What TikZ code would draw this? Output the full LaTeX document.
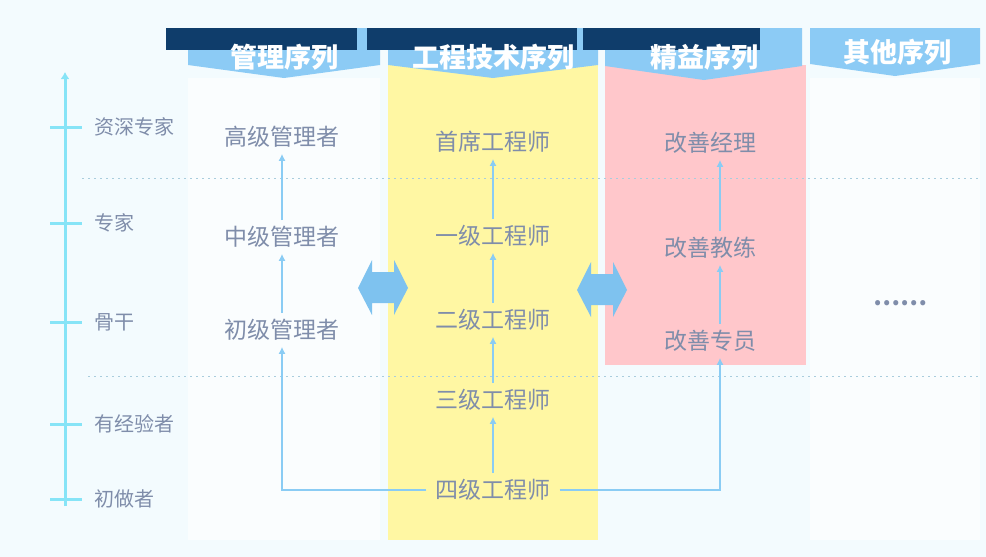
\documentclass[tikz,border=0pt]{standalone}
\usepackage{fontspec}
\setmainfont{Noto Sans CJK SC}
\usetikzlibrary{positioning,arrows.meta}

\definecolor{bgcol}{HTML}{F3FBFE}
\definecolor{navy}{HTML}{0F3D6B}
\definecolor{chevcol}{HTML}{8CCBF5}
\definecolor{yellowcol}{HTML}{FFF7A3}
\definecolor{pinkcol}{HTML}{FFC7CB}
\definecolor{axiscol}{HTML}{86E4F7}
\definecolor{arrcol}{HTML}{8ACCF4}
\definecolor{bigarrcol}{HTML}{7EC2EF}
\definecolor{txtcol}{HTML}{7F8DAA}
\definecolor{dotcol}{HTML}{A9CDDD}

\begin{document}
\begin{tikzpicture}[x=1pt, y=-1pt,
levelnode/.style={text=txtcol, font=\fontsize{23}{23}\selectfont, inner sep=3pt},
axisnode/.style={text=txtcol, font=\fontsize{20}{20}\selectfont, anchor=west, inner sep=0pt},
headnode/.style={text=white, font=\fontsize{27}{27}\selectfont\bfseries, inner sep=0pt},
uparrow/.style={draw=arrcol, line width=2pt, -{Latex[length=7pt,width=7pt]}, shorten >=3pt, shorten <=3pt},
]
\useasboundingbox (0,0) rectangle (986,557);
\fill[bgcol] (0,0) rectangle (986,557);

%Columns
\fill[white!60!bgcol] (188,78) rectangle (380,540);
\fill[white!60!bgcol] (810,78) rectangle (980,540);
\fill[yellowcol] (388,65) rectangle (598,540);
\fill[pinkcol] (605,65) rectangle (806,365);

%Headers
\fill[chevcol] (188,28) -- (380,28) -- (380,65) -- (284,78) -- (188,65) -- cycle;
\fill[chevcol] (388,28) -- (598,28) -- (598,65) -- (493,78) -- (388,65) -- cycle;
\fill[chevcol] (605,28) -- (802,28) -- (802,66) -- (704,80) -- (605,66) -- cycle;
\fill[chevcol] (810,28) -- (980,28) -- (980,64) -- (895,76) -- (810,64) -- cycle;
\fill[navy] (166,28) rectangle (357,50);
\fill[navy] (367,28) rectangle (577,50);
\fill[navy] (583,28) rectangle (760,50);
\node[headnode] (hguanli) at (284,57) {管理序列};
\node[headnode] (hgongcheng) at (493,57) {工程技术序列};
\node[headnode] (hjingyi) at (704,57) {精益序列};
\node[headnode] (hqita) at (897,52) {其他序列};

%Dotted lines
\draw[dotcol, line width=1pt, dash pattern=on 2pt off 4pt] (82,178) -- (980,178);
\draw[dotcol, line width=1pt, dash pattern=on 2pt off 4pt] (88,376) -- (980,376);

%Axis
\draw[axiscol, line width=3pt, -{Latex[length=7pt,width=9pt]}] (65,506) -- (65,72);
\foreach \y/\lbl/\nm in {127/资深专家/ashen, 223/专家/azhuan, 322/骨干/agu, 424/有经验者/ayou, 499/初做者/achu}{
  \draw[axiscol, line width=3pt] (50,\y) -- (82,\y);
  \node[axisnode] (\nm) at (94,\y) {\lbl};
}

%Nodes
\node[levelnode] (gaoguan)   at (282,137) {高级管理者};
\node[levelnode] (zhongguan) at (282,237) {中级管理者};
\node[levelnode] (chuguan)   at (282,330) {初级管理者};

\node[levelnode] (shouxi) at (493,142) {首席工程师};
\node[levelnode] (yiji)   at (493,236) {一级工程师};
\node[levelnode] (erji)   at (493,320) {二级工程师};
\node[levelnode] (sanji)  at (493,400) {三级工程师};
\node[levelnode] (siji)   at (493,490) {四级工程师};

\node[levelnode] (jingli)    at (710,143) {改善经理};
\node[levelnode] (jiaolian)  at (710,248) {改善教练};
\node[levelnode] (zhuanyuan) at (710,341) {改善专员};

\node[text=txtcol, font=\fontsize{24}{24}\selectfont\bfseries] (gengduo) at (900,303) {……};

%Lines
\draw[uparrow] (zhongguan) -- (gaoguan);
\draw[uparrow] (chuguan) -- (zhongguan);
\draw[uparrow] (yiji) -- (shouxi);
\draw[uparrow] (erji) -- (yiji);
\draw[uparrow] (sanji) -- (erji);
\draw[uparrow] (siji) -- (sanji);
\draw[uparrow] (jiaolian.north -| 720,0) -- (jingli.south -| 720,0);
\draw[uparrow] (zhuanyuan.north -| 720,0) -- (jiaolian.south -| 720,0);
\draw[uparrow, shorten <=6pt] (siji.west) -| (chuguan.south);
\draw[uparrow, shorten <=6pt] (siji.east) -| (zhuanyuan.south -| 720,0);

%Big arrows
\foreach \cx/\cy in {383/288, 602/290}{
  \fill[bigarrcol] (\cx-25,\cy) -- (\cx-11,\cy-28) -- (\cx-11,\cy-16) -- (\cx+11,\cy-16) -- (\cx+11,\cy-28)
    -- (\cx+25,\cy) -- (\cx+11,\cy+27) -- (\cx+11,\cy+15) -- (\cx-11,\cy+15) -- (\cx-11,\cy+27) -- cycle;
}
\end{tikzpicture}
\end{document}
